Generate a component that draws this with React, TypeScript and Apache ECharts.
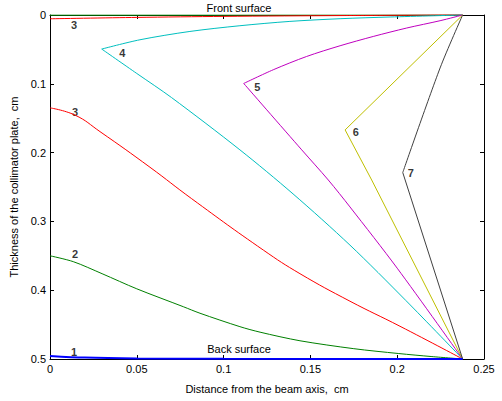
import React, { useEffect, useRef } from "react";
import * as echarts from "echarts";

// Convergence point of the curves on the right
const xEdge = 0.2377;

// Curve branches: [distance from beam axis (cm), thickness (cm)], x increasing
const curve1: number[][] = [[0, 0.4955], [0.02, 0.498], [0.05, 0.4993], [0.1, 0.4998], [xEdge, 0.5]];
const curve2Upper: number[][] = [[0, 0.0003], [xEdge, 0.0003]];
const curve2Lower: number[][] = [
  [0, 0.35], [0.0134, 0.3585], [0.03, 0.376], [0.05, 0.398], [0.0768, 0.424], [0.0864, 0.4335],
  [0.1094, 0.453], [0.121, 0.461], [0.144, 0.4735], [0.175, 0.485],
  [0.2006, 0.492], [0.22, 0.4965], [xEdge, 0.5],
];
const curve3Upper: number[][] = [[0, 0.0055], [0.05, 0.0035], [0.1, 0.002], [0.17, 0.0008], [xEdge, 0]];
const curve3Lower: number[][] = [
  [0, 0.135], [0.0144, 0.1455], [0.0288, 0.1695], [0.0576, 0.2213], [0.0816, 0.267],
  [0.1229, 0.3417], [0.144, 0.376], [0.1728, 0.416], [0.2016, 0.4524], [xEdge, 0.5],
];
const curve4Upper: number[][] = [
  [0.0298, 0.0495], [0.0518, 0.036], [0.0806, 0.0239], [0.1094, 0.0156], [0.1382, 0.0093],
  [0.1671, 0.0054], [0.1959, 0.0029], [xEdge, 0],
];
const curve4Lower: number[][] = [
  [0.0298, 0.0495], [0.05, 0.085], [0.07, 0.12], [0.1094, 0.196], [0.14, 0.26], [0.1728, 0.3345],
  [0.205, 0.415], [xEdge, 0.5],
];
const curve5Upper: number[][] = [
  [0.1116, 0.0995], [0.1286, 0.0796], [0.1478, 0.0603], [0.1671, 0.0447], [0.1862, 0.0312],
  [0.2055, 0.0189], [0.2247, 0.0083], [xEdge, 0],
];
const curve5Lower: number[][] = [
  [0.1116, 0.0995], [0.145, 0.196], [0.1603, 0.2398], [0.1728, 0.279], [0.2, 0.368], [xEdge, 0.5],
];
const curve6Upper: number[][] = [[0.170, 0.167], [xEdge, 0]];
const curve6Lower: number[][] = [[0.170, 0.167], [0.1853, 0.2398], [xEdge, 0.5]];
const curve7Upper: number[][] = [[0.2032, 0.229], [0.2247, 0.077], [xEdge, 0]];
const curve7Lower: number[][] = [[0.2032, 0.229], [0.2083, 0.269], [xEdge, 0.5]];

// Curve number labels: [x, y, text]
const curveLabels: (number | string)[][] = [
  [0.0138, 0.0141, "3"],
  [0.0416, 0.0553, "4"],
  [0.0144, 0.1404, "3"],
  [0.0144, 0.3475, "2"],
  [0.0138, 0.4898, "1"],
  [0.1194, 0.1049, "5"],
  [0.1761, 0.1699, "6"],
  [0.2078, 0.2301, "7"],
];

const xTicks = [0, 0.05, 0.1, 0.15, 0.2, 0.25];
const yTicks = [0, 0.1, 0.2, 0.3, 0.4, 0.5];

const FONT = "'Liberation Sans', Arial, Helvetica, sans-serif";

export default function App() {
  const ref = useRef<HTMLDivElement>(null);
  useEffect(() => {
    if (!ref.current) return;
    const chart = echarts.init(ref.current, undefined, { renderer: "svg" });
    const line = (data: number[][], color: string, width = 1, smooth: number | boolean = 0.3) => ({
      type: "line",
      data,
      showSymbol: false,
      symbol: "none",
      smooth,
      lineStyle: { color, width },
      silent: true,
      clip: false,
    });
    const axisCommon = {
      axisLine: { show: true, onZero: false, lineStyle: { color: "#000", width: 1 } },
      axisTick: { show: true, inside: true, length: 4, lineStyle: { color: "#000" } },
      splitLine: { show: false },
    };
    chart.setOption({
      animation: false,
      backgroundColor: "#fff",
      textStyle: { fontFamily: FONT },
      grid: { left: 50, top: 15, width: 434, height: 344, containLabel: false },
      xAxis: [
        {
          type: "value", min: xTicks[0], max: xTicks[xTicks.length - 1], interval: 0.05,
          position: "bottom", ...axisCommon,
          axisLabel: { color: "#000", fontSize: 11, fontFamily: FONT, margin: 4 },
          name: "Distance from the beam axis,  cm",
          nameLocation: "middle", nameGap: 24,
          nameTextStyle: { color: "#000", fontSize: 11, fontFamily: FONT },
        },
        {
          type: "value", min: xTicks[0], max: xTicks[xTicks.length - 1], interval: 0.05,
          position: "top", ...axisCommon, axisLabel: { show: false },
        },
      ],
      yAxis: [
        {
          type: "value", inverse: true, min: yTicks[0], max: yTicks[yTicks.length - 1], interval: 0.1,
          position: "left", ...axisCommon,
          axisLabel: { color: "#000", fontSize: 11, fontFamily: FONT, margin: 4 },
          name: "Thickness of the collimator plate,  cm",
          nameLocation: "middle", nameGap: 21,
          nameTextStyle: { color: "#000", fontSize: 11, fontFamily: FONT },
        },
        {
          type: "value", inverse: true, min: yTicks[0], max: yTicks[yTicks.length - 1], interval: 0.1,
          position: "right", ...axisCommon, axisLabel: { show: false },
        },
      ],
      series: [
        line(curve2Upper, "#008000", 1, false),
        line(curve3Upper, "#ff0000"),
        line(curve2Lower, "#008000"),
        line(curve3Lower, "#ff0000", 1, 0.45),
        line(curve4Upper, "#00bfbf"),
        line(curve4Lower, "#00bfbf"),
        line(curve5Upper, "#bf00bf"),
        line(curve5Lower, "#bf00bf"),
        line(curve6Upper, "#bfbf00", 1, false),
        line(curve6Lower, "#bfbf00", 1, false),
        line(curve7Upper, "#404040"),
        line(curve7Lower, "#404040", 1, false),
        line(curve1, "#0000ff", 2),
        {
          type: "scatter",
          data: curveLabels,
          symbolSize: 0,
          silent: true,
          clip: false,
          label: {
            show: true,
            position: "inside",
            formatter: (p: any) => String(p.data[2]),
            color: "#000",
            fontSize: 11,
            fontWeight: "bold",
            fontFamily: FONT,
          },
        },
      ],
      graphic: [
        {
          type: "text", x: 239, y: 8,
          style: { text: "Front surface", fill: "#000", font: `11px ${FONT}`, textAlign: "center", textVerticalAlign: "middle" },
        },
        {
          type: "text", x: 239, y: 349,
          style: { text: "Back surface", fill: "#000", font: `11px ${FONT}`, textAlign: "center", textVerticalAlign: "middle" },
        },
      ],
    });
    return () => chart.dispose();
  }, []);
  return <div ref={ref} style={{ position: "fixed", left: 0, top: 0, width: 502, height: 401, background: "#fff" }} />;
}
